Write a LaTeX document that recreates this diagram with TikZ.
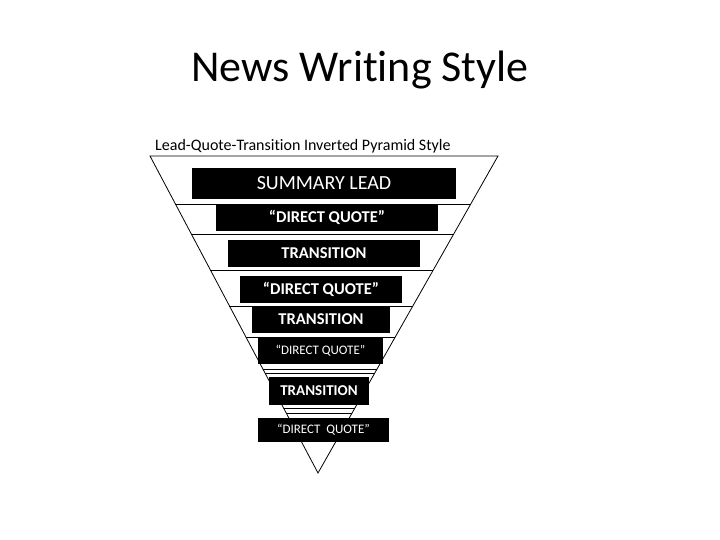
\documentclass[tikz,border=0pt]{standalone}
\usepackage{fontspec}
\setmainfont[Ligatures={NoCommon}]{Carlito}
\usetikzlibrary{positioning,calc}

\begin{document}
\begin{tikzpicture}[x=1pt,y=-1pt,
      band/.style={fill=black,text=white,inner sep=0pt},
      bigtxt/.style={font=\fontsize{20}{22}\selectfont},
      boldtxt/.style={font=\fontsize{16.5}{18}\selectfont\bfseries},
      smalltxt/.style={font=\fontsize{13}{15}\selectfont},
      edge/.style={line width=0.8pt,color=black}]
    \useasboundingbox (0,0) rectangle (720,540);
    % headings
    \node[font=\fontsize{44}{50}\selectfont,anchor=base] (title) at (360,82) {News Writing Style};
    \node[font=\fontsize{16}{18}\selectfont,anchor=base west,inner sep=0pt] (sub) at (155,151)
      {Lead-Quote-Transition Inverted Pyramid Style};
    % inverted pyramid
    \coordinate (tl) at (150,156);
    \coordinate (tr) at (498,156);
    \coordinate (apex) at (318,473);
    \draw[edge] (tl) -- (tr) -- (apex) -- cycle;
    % layer dividers
    \foreach \y in {204,234,270,306,337,369,373,408,413} {
      \draw[edge] ($(tl)!{(\y-156)/317}!(apex)$) -- ($(tr)!{(\y-156)/317}!(apex)$);
    }
    % layers
    \node[band,bigtxt,minimum width=264pt,minimum height=31pt] (lead) at (324,183.5) {SUMMARY LEAD};
    \node[band,boldtxt,minimum width=222pt,minimum height=27pt] (quoteA) at (327,217.5) {“DIRECT QUOTE”};
    \node[band,boldtxt,minimum width=192pt,minimum height=27pt] (transA) at (324,253.5) {TRANSITION};
    \node[band,boldtxt,minimum width=162pt,minimum height=27pt] (quoteB) at (321,289.5) {“DIRECT QUOTE”};
    \node[band,boldtxt,minimum width=138pt,minimum height=27pt] (transB) at (321,319.5) {TRANSITION};
    \node[band,smalltxt,minimum width=125pt,minimum height=26pt] (quoteC) at (320.5,351) {“DIRECT QUOTE”};
    \node[band,font=\fontsize{15}{17}\selectfont\bfseries,minimum width=100pt,minimum height=28pt] (transC) at (319,391) {TRANSITION};
    \node[band,smalltxt,minimum width=131pt,minimum height=24pt] (quoteD) at (323.5,430) {“DIRECT\ \ QUOTE”};
  \end{tikzpicture}
\end{document}
